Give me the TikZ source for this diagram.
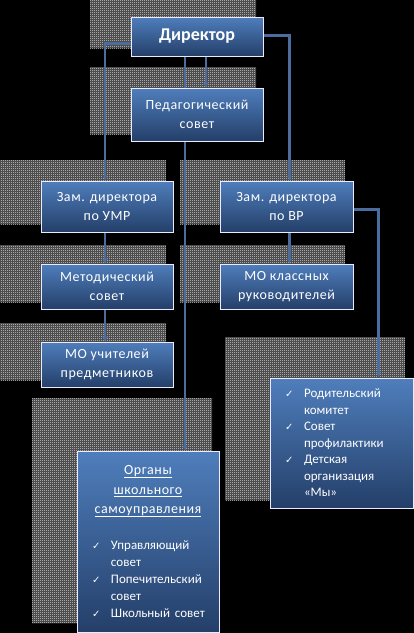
\documentclass[tikz,border=0pt]{standalone}
\usepackage{fontspec}
\setmainfont{Carlito}
\newfontfamily\wide{Carlito}[LetterSpace=4]
\newfontfamily\symfont{DejaVu Sans}
\usepackage{xcolor}
\usetikzlibrary{positioning,arrows.meta,patterns,calc}
\definecolor{boxhi}{HTML}{4F7EBC}
\definecolor{boxlo}{HTML}{243F69}
\definecolor{wirec}{HTML}{4A6C9F}
\definecolor{hatchc}{HTML}{E0E0E0}
\definecolor{hatchbg}{HTML}{383838}
\pgfdeclarelayer{shade}
\pgfdeclarelayer{wire}
\pgfsetlayers{shade,wire,main}
\pgfdeclarepatternformonly{checker}{\pgfqpoint{0pt}{0pt}}{\pgfqpoint{2pt}{2pt}}{\pgfqpoint{2pt}{2pt}}{%
  \pgfpathrectangle{\pgfqpoint{0pt}{0pt}}{\pgfqpoint{1pt}{1pt}}%
  \pgfpathrectangle{\pgfqpoint{1pt}{1pt}}{\pgfqpoint{1pt}{1pt}}%
  \pgfusepath{fill}}
\newcommand\chk{\makebox[19pt][l]{\symfont\fontsize{10}{10}\selectfont ✓}}
\newcommand\ind{\hspace*{19pt}}
\newcommand\lineL[1]{\makebox[112pt][l]{\normalfont\fontsize{13}{16}\selectfont #1}}
\newcommand\ulin[1]{\leavevmode\setbox0\hbox{#1}\rlap{\rule[-3pt]{\wd0}{0.6pt}}\box0}

\begin{document}
\begin{tikzpicture}[x=1pt,y=-1pt,
  box/.style={draw=white!92!blue,line width=0.8pt,top color=boxhi,bottom color=boxlo,text=white,
              align=center,inner sep=0pt,font=\wide\fontsize{14}{19}\selectfont,minimum width=132pt},
  hatch/.style={fill=hatchbg,postaction={pattern=checker,pattern color=hatchc}},
  arr/.style={-{Latex[length=5pt,width=6pt]},line width=2.2pt,draw=wirec}]
\useasboundingbox (0,0) rectangle (414,633);
\begin{pgfonlayer}{shade}
\fill[black] (0,0) rectangle (414,633);
% shadows
\fill[hatch] (90,0) rectangle (256,48);
\fill[hatch] (90,67) rectangle (256,134);
\fill[hatch] (0,160) rectangle (166,224);
\fill[hatch] (180,160) rectangle (345,224);
\fill[hatch] (0,245) rectangle (166,302);
\fill[hatch] (180,245) rectangle (345,302);
\fill[hatch] (0,323) rectangle (166,380);
\fill[hatch] (225,337) rectangle (405,500);
\fill[hatch] (32,398) rectangle (212,623);
\end{pgfonlayer}
% boxes
\node[box,minimum height=39pt,font=\normalfont\fontsize{18}{20}\selectfont\bfseries] (dir) at (197,36.5) {Директор};
\node[box,minimum height=53pt] (ped) at (197,114.5) {Педагогический\\совет};
\node[box,minimum height=51pt] (umr) at (107,206.5) {Зам. директора\\по УМР};
\node[box,minimum height=51pt,minimum width=133pt] (vr) at (286.5,206.5) {Зам. директора\\по ВР};
\node[box,minimum height=45pt] (met) at (107,286.5) {Методический\\совет};
\node[box,minimum height=45pt,minimum width=133pt] (mok) at (286.5,286.5) {МО классных\\руководителей};
\node[box,minimum height=45pt] (mou) at (107,364.5) {МО учителей\\предметников};
\node[box,minimum height=130pt,minimum width=143pt,align=left,text width=113pt,
      font=\normalfont\fontsize{13}{16.5}\selectfont] (par) at (341.5,443)
  {\chk Родительский\\\ind комитет\\\chk Совет\\\ind профилактики\\\chk Детская\\\ind организация\\\ind «Мы»};
\node[box,minimum height=181pt,minimum width=142pt,text width=112pt,font=\wide\fontsize{14}{19.5}\selectfont] (org) at (148,541.5)
  {\ulin{Органы}\\\ulin{школьного}\\\ulin{самоуправления}\\[16.5pt]
   \lineL{\chk Управляющий}\\[-2.5pt]\lineL{\ind совет}\\[-2.5pt]\lineL{\chk Попечительский}\\[-2.5pt]
   \lineL{\ind совет}\\[-2.5pt]\lineL{\chk Школьный совет}};
% links
\begin{pgfonlayer}{wire}
\draw[arr] ([xshift=9pt]dir.south) -- ([xshift=9pt]ped.north);
\draw[arr] ([xshift=-12pt]dir.south) -- ([xshift=-12pt]dir.south |- org.north);
\draw[arr] ([yshift=-7pt]dir.west) -| ([xshift=-2pt]umr.north);
\draw[arr] ([yshift=1pt]dir.east) -| ([xshift=3pt]vr.north);
\draw[arr] ([xshift=-2pt]umr.south) -- ([xshift=-2pt]met.north);
\draw[arr] ([xshift=-2pt]met.south) -- ([xshift=-2pt]mou.north);
\draw[arr] ([xshift=3pt]vr.south) -- ([xshift=3pt]mok.north);
\draw[arr] ([yshift=-3pt]vr.east) -| ([xshift=37pt]par.north);
\end{pgfonlayer}
\end{tikzpicture}
\end{document}
